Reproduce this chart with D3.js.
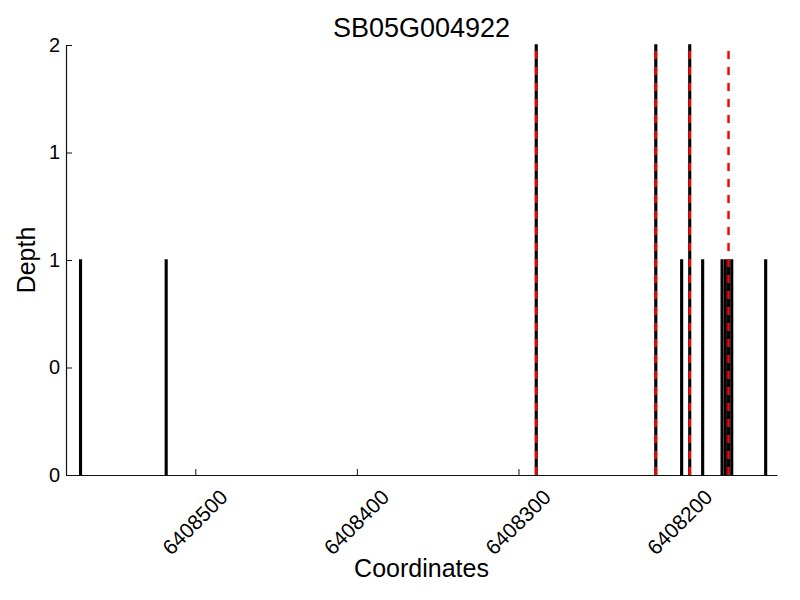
<!DOCTYPE html>
<html><head><meta charset="utf-8">
<script src="https://cdn.jsdelivr.net/npm/d3@7"></script>
<style>body{margin:0;background:#fff;} text{font-family:"Liberation Sans",Arial,Helvetica,sans-serif;}</style>
</head><body>
<svg id="chart" width="800" height="600"></svg>
<script>
const title = "SB05G004922";
const positions = [6408571, 6408518, 6408289, 6408215, 6408199, 6408194, 6408186, 6408174, 6408172, 6408170, 6408168, 6408147];
const depths    = [1, 1, 2, 2, 1, 2, 1, 1, 1, 1, 1, 1];
const markers   = [6408289, 6408215, 6408194, 6408170];
const xDomain = [6408580, 6408140];
const yDomain = [0, 2];
const xTicks = [6408500, 6408400, 6408300, 6408200];
const yTicks = [0, 0.5, 1, 1.5, 2];
const yTickLabels = ["0", "0", "1", "1", "2"];

const svg = d3.select("#chart");
const L = 66, R = 777, T = 45, B = 475;
const x = d3.scaleLinear().domain(xDomain).range([L, R]);
const y = d3.scaleLinear().domain(yDomain).range([B, T]);

// bars
const bw = Math.abs(x(1) - x(0));
svg.append("g").selectAll("rect").data(positions).join("rect")
  .attr("x", (d) => x(d) - bw/2)
  .attr("width", bw)
  .attr("y", (d,i) => y(depths[i]))
  .attr("height", (d,i) => y(0) - y(depths[i]))
  .attr("fill", "#000").attr("stroke", "#000").attr("stroke-width", 1.5);

// red dashed markers
svg.append("g").selectAll("line").data(markers).join("line")
  .attr("x1", d => x(d)).attr("x2", d => x(d))
  .attr("y1", y(0)).attr("y2", y(2))
  .attr("stroke", "#ff0000").attr("stroke-width", 2.5)
  .attr("stroke-dasharray", "8,8");

// axes
const xAxis = d3.axisBottom(x).tickValues(xTicks).tickSizeInner(-6).tickSizeOuter(0).tickFormat(d3.format("d"));
const gx = svg.append("g").attr("transform", `translate(0,${B})`).call(xAxis);
gx.select(".domain").attr("stroke", "#111").attr("stroke-width", 1.2);
gx.selectAll(".tick line").attr("stroke", "#111");
gx.selectAll(".tick text")
  .attr("font-size", 21).attr("fill", "#000")
  .attr("text-anchor", "middle").attr("dominant-baseline", "central")
  .attr("x", 0).attr("y", 0).attr("dy", null)
  .attr("transform", "translate(-1,47) rotate(-45)");

const yAxis = d3.axisLeft(y).tickValues(yTicks).tickSizeInner(-6).tickSizeOuter(0)
  .tickFormat((d,i) => yTickLabels[i]);
const gy = svg.append("g").attr("transform", `translate(${L},0)`).call(yAxis);
gy.select(".domain").attr("stroke", "#111").attr("stroke-width", 1.2);
gy.selectAll(".tick line").attr("stroke", "#111");
gy.selectAll(".tick text").attr("font-size", 20).attr("fill", "#000").attr("x", -6);

// labels
svg.append("text").attr("x", (L+R)/2).attr("y", 37).attr("text-anchor", "middle")
  .attr("font-size", 27).text(title);
svg.append("text").attr("x", (L+R)/2).attr("y", 577).attr("text-anchor", "middle")
  .attr("font-size", 25).text("Coordinates");
svg.append("text").attr("transform", `translate(35,${(T+B)/2}) rotate(-90)`).attr("text-anchor", "middle")
  .attr("font-size", 25).text("Depth");
</script>
</body></html>
